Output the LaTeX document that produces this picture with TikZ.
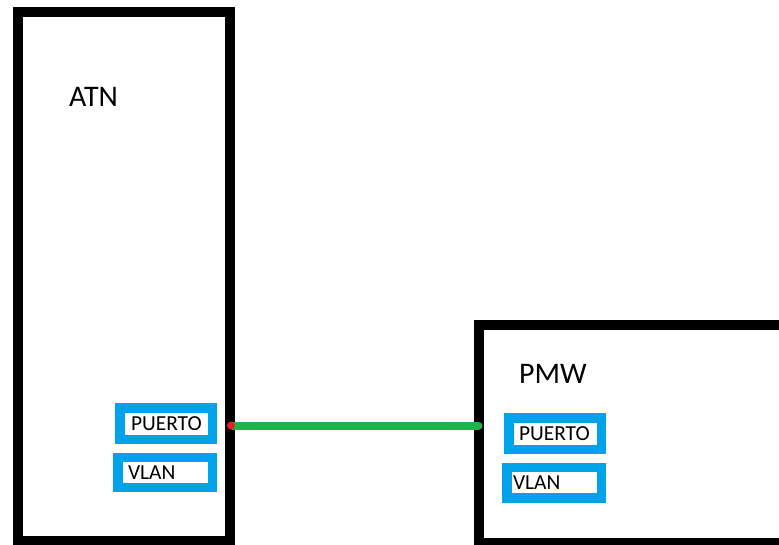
\documentclass[tikz,border=0pt]{standalone}
\usepackage{fontspec}
\setmainfont{Carlito}
\definecolor{paintblue}{RGB}{0,162,232}
\definecolor{paintgreen}{RGB}{34,177,76}
\definecolor{paintred}{RGB}{237,28,36}
\begin{document}
\begin{tikzpicture}[x=1bp,y=-1bp,
  device/.style={draw=black,line width=10bp,fill=white,inner sep=0pt,outer sep=0pt},
  field/.style={draw=paintblue,line width=9.5bp,fill=white,outer sep=0pt,
    align=left,inner ysep=0pt,font=\fontsize{21.5}{21.5}\selectfont},
  title/.style={anchor=base west,inner sep=0pt,font=\fontsize{30}{32}\selectfont},
  link/.style={draw=paintgreen,line width=8bp,line cap=round}]
\useasboundingbox (0,0) rectangle (779,545);
% equipment outlines
\node[device,minimum width=212bp,minimum height=528.5bp] (atn) at (124,276.75) {};
\node[device,minimum width=306.5bp,minimum height=217.5bp] (pmw) at (631.75,434.25) {};
% equipment names
\node[title] (atnlbl) at (69,107) {ATN};
\node[title] (pmwlbl) at (519,383) {PMW};
% ATN fields
\node[field,inner xsep=11bp,text width=70.5bp,minimum height=31.5bp] (atnport) at (166.25,423.75) {PUERTO};
\node[field,inner xsep=10bp,text width=74.5bp,minimum height=30bp] (atnvlan) at (165.25,472.5) {VLAN};
% PMW fields
\node[field,inner xsep=10bp,text width=72.5bp,minimum height=31.5bp] (pmwport) at (555.25,433.75) {PUERTO};
\node[field,inner xsep=6bp,text width=82.5bp,minimum height=30.5bp] (pmwvlan) at (554.25,482.75) {VLAN};
% link between the two devices
\coordinate (a) at (atn.east |- 0,425.5);
\coordinate (b) at (pmw.west |- 0,425.5);
\draw[link] ([xshift=3bp]a) -- (b);
\fill[paintred] ([xshift=1bp]a) circle (4bp);
\end{tikzpicture}
\end{document}
